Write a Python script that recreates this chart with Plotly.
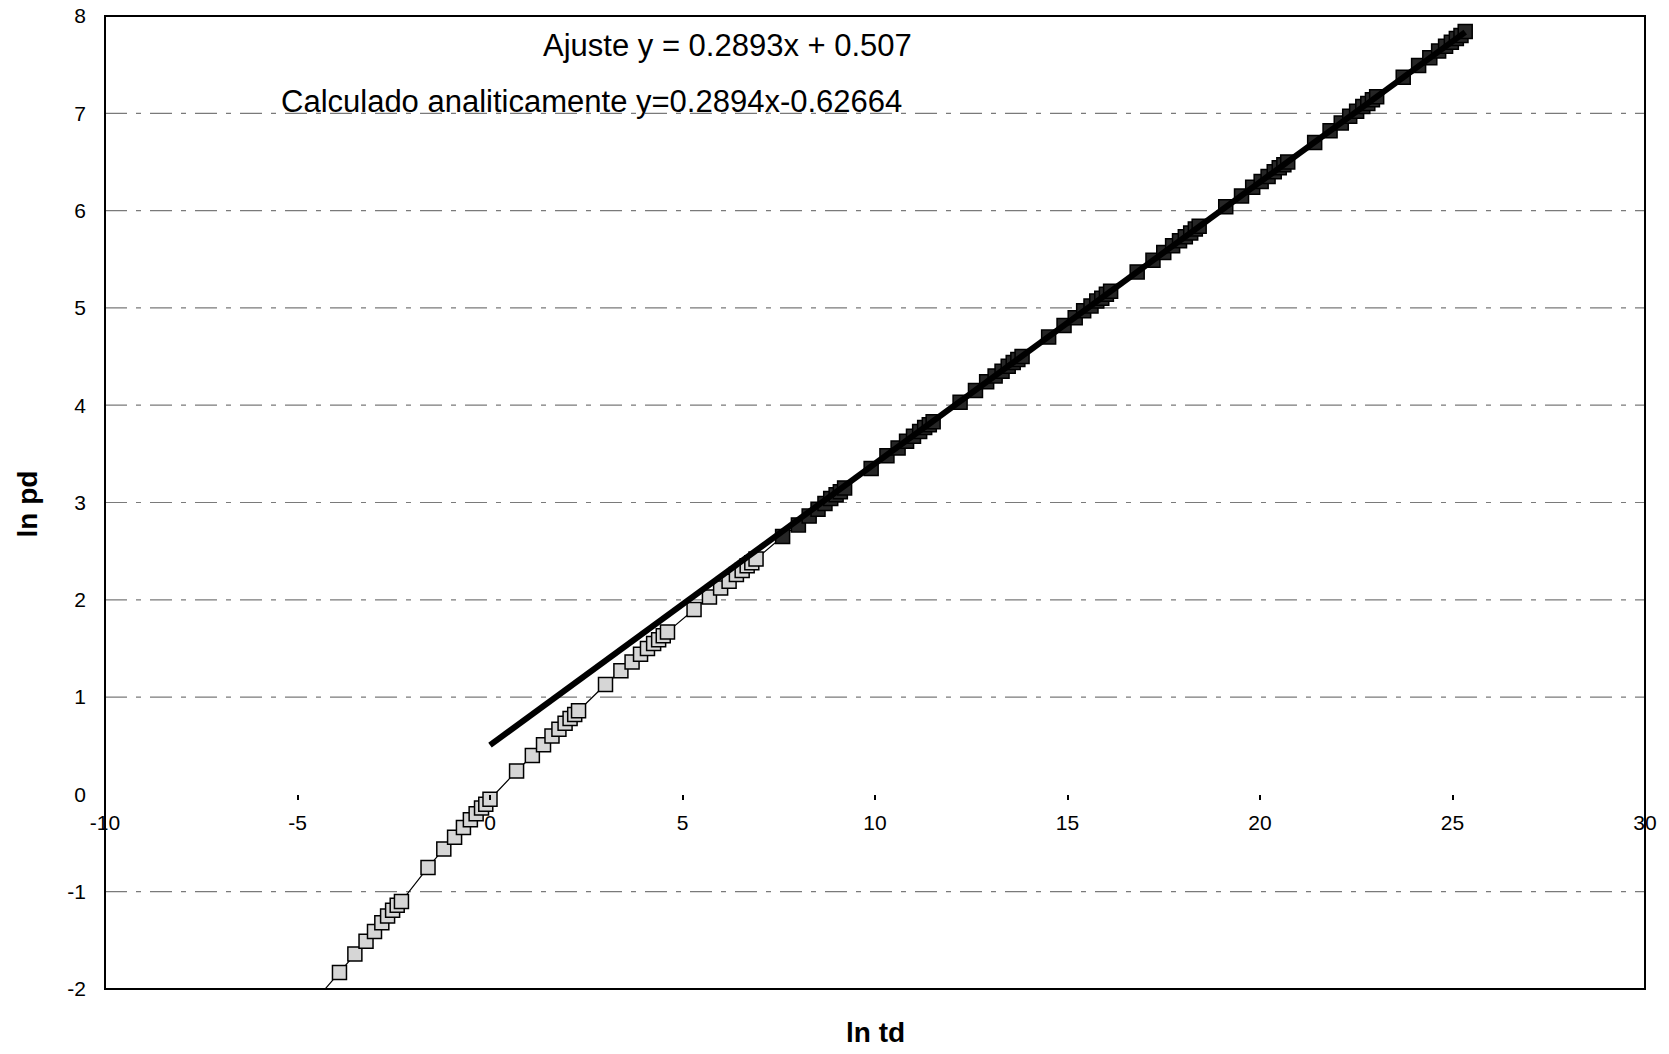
import plotly.graph_objects as go

# ln td values (data points)
ln_td = [
    -4.61, -3.91, -3.51, -3.22, -3.00, -2.81, -2.66, -2.53, -2.41,
    -2.30, -1.61, -1.20, -0.92, -0.69, -0.51, -0.36, -0.22, -0.11,
    0.00, 0.69, 1.10, 1.39, 1.61, 1.79, 1.95, 2.08, 2.20,
    2.30, 3.00, 3.40, 3.69, 3.91, 4.09, 4.25, 4.38, 4.50,
    4.61, 5.30, 5.70, 5.99, 6.21, 6.40, 6.55, 6.68, 6.80,
    6.91, 7.60, 8.01, 8.29, 8.52, 8.70, 8.85, 8.99, 9.10,
    9.21, 9.90, 10.31, 10.60, 10.82, 11.00, 11.16, 11.29, 11.41,
    11.51, 12.21, 12.61, 12.90, 13.12, 13.30, 13.46, 13.59, 13.71,
    13.82, 14.51, 14.91, 15.20, 15.42, 15.61, 15.76, 15.89, 16.01,
    16.12, 16.81, 17.22, 17.50, 17.73, 17.91, 18.06, 18.20, 18.32,
    18.42, 19.11, 19.52, 19.81, 20.03, 20.21, 20.37, 20.50, 20.62,
    20.72, 21.42, 21.82, 22.11, 22.33, 22.51, 22.67, 22.80, 22.92,
    23.03, 23.72, 24.12, 24.41, 24.64, 24.82, 24.97, 25.10, 25.22,
    25.33,
]

# ln pd values (data points)
ln_pd = [
    -2.15, -1.83, -1.64, -1.51, -1.41, -1.32, -1.25, -1.19, -1.14,
    -1.10, -0.75, -0.56, -0.44, -0.34, -0.26, -0.20, -0.14, -0.10,
    -0.05, 0.24, 0.40, 0.51, 0.60, 0.67, 0.73, 0.78, 0.82,
    0.86, 1.13, 1.27, 1.36, 1.44, 1.50, 1.55, 1.59, 1.63,
    1.67, 1.90, 2.03, 2.12, 2.19, 2.26, 2.30, 2.35, 2.38,
    2.42, 2.65, 2.77, 2.86, 2.93, 2.99, 3.04, 3.08, 3.11,
    3.15, 3.35, 3.48, 3.56, 3.63, 3.68, 3.73, 3.77, 3.80,
    3.83, 4.03, 4.15, 4.24, 4.30, 4.35, 4.40, 4.44, 4.47,
    4.50, 4.70, 4.82, 4.90, 4.97, 5.02, 5.07, 5.10, 5.14,
    5.17, 5.37, 5.49, 5.57, 5.64, 5.69, 5.73, 5.77, 5.81,
    5.84, 6.04, 6.15, 6.24, 6.30, 6.35, 6.40, 6.44, 6.47,
    6.50, 6.70, 6.82, 6.90, 6.97, 7.02, 7.07, 7.10, 7.14,
    7.17, 7.37, 7.49, 7.57, 7.64, 7.69, 7.73, 7.77, 7.80,
    7.84,
]

# Fitted trendline "Ajuste y = 0.2893x + 0.507"
fit_x = [0.0, 25.33]
fit_y = [0.507, 7.835]

grid_levels = [-1, 1, 2, 3, 4, 5, 6, 7]
x_ticks = [-10, -5, 0, 5, 10, 15, 20, 25, 30]
x_tick_text = ["-10", "-5", "0", "5", "10", "15", "20", "25", "30"]
y_ticks = [-2, -1, 0, 1, 2, 3, 4, 5, 6, 7, 8]
y_tick_text = ["-2", "-1", "0", "1", "2", "3", "4", "5", "6", "7", "8"]

FONT = "Liberation Sans, Arial, sans-serif"

marker_colors = ["#d6d6d6" if x < 7.3 else "#262626" for x in ln_td]

fig = go.Figure()

fig.add_trace(go.Scatter(
    x=ln_td, y=ln_pd, mode="lines+markers",
    line=dict(color="black", width=1.2),
    marker=dict(symbol="square", size=14, color=marker_colors,
                line=dict(color="black", width=1.5)),
    showlegend=False,
))

fig.add_trace(go.Scatter(
    x=fit_x, y=fit_y, mode="lines",
    line=dict(color="black", width=6),
    showlegend=False,
))

shapes = []
for g in grid_levels:
    shapes.append(dict(type="line", xref="x domain", yref="y",
                       x0=0, x1=1, y0=g, y1=g, layer="below",
                       line=dict(color="#7a7a7a", width=1.2,
                                 dash="22px,9px,5px,9px")))
shapes.append(dict(type="rect", xref="x domain", yref="y domain",
                   x0=0, x1=1, y0=0, y1=1,
                   line=dict(color="black", width=2)))

fig.update_layout(
    width=1669, height=1054,
    margin=dict(l=105, r=24, t=16, b=65, autoexpand=False),
    paper_bgcolor="white", plot_bgcolor="white",
    font=dict(family=FONT, color="black"),
    shapes=shapes,
    xaxis=dict(range=[-10, 30], tickvals=x_ticks, ticktext=x_tick_text,
               anchor="free", position=0.2, automargin=False,
               showline=False, showgrid=False, zeroline=False,
               ticks="outside", ticklen=5, tickwidth=1.5, tickcolor="black",
               tickfont=dict(size=21, family=FONT, color="black"),
               ticklabelstandoff=4),
    yaxis=dict(range=[-2, 8], tickvals=y_ticks, ticktext=y_tick_text,
               domain=[0, 1], automargin=False,
               showline=False, showgrid=False, zeroline=False,
               ticks="", tickfont=dict(size=21, family=FONT, color="black"),
               ticklabelstandoff=18),
    annotations=[
        dict(text="Ajuste y = 0.2893x + 0.507", xref="paper", yref="paper",
             x=0.4045, y=0.970, xanchor="center", yanchor="middle",
             showarrow=False, font=dict(size=31, family=FONT, color="black")),
        dict(text="Calculado analiticamente y=0.2894x-0.62664", xref="paper", yref="paper",
             x=0.3156, y=0.9126, xanchor="center", yanchor="middle",
             showarrow=False, font=dict(size=31, family=FONT, color="black")),
        dict(text="<b>ln td</b>", xref="paper", yref="paper",
             x=0.5, y=-0.045, xanchor="center", yanchor="middle",
             showarrow=False, font=dict(size=28, family=FONT, color="black")),
        dict(text="<b>ln pd</b>", xref="paper", yref="paper",
             x=-0.0506, y=0.498, xanchor="center", yanchor="middle",
             textangle=-90, showarrow=False,
             font=dict(size=28, family=FONT, color="black")),
    ],
)

fig.write_html("out.html")
